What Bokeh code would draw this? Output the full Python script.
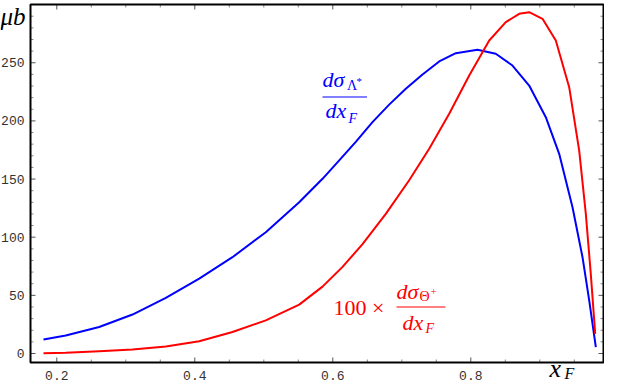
from bokeh.plotting import figure
from bokeh.models import Range1d, Label
from bokeh.core.properties import value
from bokeh.embed import file_html
from bokeh.resources import INLINE

# ---- data ----
xF_lambda = [0.1807, 0.2130, 0.2614, 0.3097, 0.3580, 0.4064, 0.4546, 0.5029,
             0.5513, 0.5851, 0.6093, 0.6333, 0.6575, 0.6817, 0.7058, 0.7300,
             0.7542, 0.7783, 0.8097, 0.8362, 0.8604, 0.8846, 0.9087, 0.9281,
             0.9474, 0.9619, 0.9716, 0.9812]
sig_lambda = [12.0, 15.5, 22.8, 33.5, 47.8, 64.4, 82.8, 104.3,
              130.1, 150.2, 166.0, 182.0, 198.9, 214.0, 227.6, 239.9,
              251.1, 258.2, 261.1, 257.7, 247.6, 230.4, 203.2, 171.7,
              125.8, 82.8, 45.6, 5.4]

xF_theta = [0.1807, 0.2130, 0.2614, 0.3097, 0.3580, 0.4064, 0.4546, 0.5029,
            0.5513, 0.5851, 0.6141, 0.6431, 0.6768, 0.7107, 0.7397, 0.7687,
            0.7977, 0.8267, 0.8507, 0.8604, 0.8701, 0.8846, 0.9039, 0.9232,
            0.9426, 0.9571, 0.9667, 0.9739, 0.9803]
sig_theta100 = [0.3, 0.6, 2.0, 3.4, 6.0, 10.6, 18.5, 28.5,
                42.0, 57.5, 74.5, 94.0, 120.0, 149.0, 176.0, 206.1,
                239.0, 269.1, 284.9, 288.5, 292.1, 293.5, 287.8, 269.1,
                229.0, 174.5, 120.1, 68.5, 16.9]

x_ticks = [0.2, 0.4, 0.6, 0.8]
x_tick_labels = ["0.2", "0.4", "0.6", "0.8"]
y_ticks = [0, 50, 100, 150, 200, 250]
y_tick_labels = ["0", "50", "100", "150", "200", "250"]
x_minor_step = 0.05
y_minor_step = 10

BLUE = "#0000ff"
RED = "#ff0000"
SERIF = "Liberation Serif"
MONO = "Liberation Mono"

# ---- page pixel <-> data helpers (layout only) ----
PX_X = 690.0
PX_Y = 1.163


def X(px):
    return 0.2 + (px - 64.3) / PX_X


def Y(py):
    return (353.0 - py) / PX_Y


# the frame covers the whole canvas; the plot box is drawn by hand
p = figure(width=604, height=383, output_backend="svg", toolbar_location=None,
           x_range=Range1d(X(8), X(612)), y_range=Range1d(Y(383), Y(0)),
           x_axis_type=None, y_axis_type=None, min_border=0,
           background_fill_color="white", border_fill_color="white")
p.title.visible = False
p.outline_line_color = None

x_lo, x_hi, y_lo, y_hi = X(38), X(611), Y(362), Y(4)

# ticks (inward, on all four sides)
xmin_ticks = [round(k * x_minor_step, 4) for k in range(1, 21)]
xmin_ticks = [t for t in xmin_ticks if x_lo < t < x_hi - 0.003
              and all(abs(t - m) > 1e-6 for m in x_ticks)]
ymin_ticks = [k * y_minor_step for k in range(1, 40)]
ymin_ticks = [t for t in ymin_ticks if y_lo < t < y_hi - 1 and t not in y_ticks]


def xticks(vals, L, color):
    n = len(vals)
    dy = L / PX_Y
    p.segment(x0=vals, y0=[y_lo] * n, x1=vals, y1=[y_lo + dy] * n,
              line_color=color, line_width=1)
    p.segment(x0=vals, y0=[y_hi] * n, x1=vals, y1=[y_hi - dy] * n,
              line_color=color, line_width=1)


def yticks(vals, L, color):
    n = len(vals)
    dx = L / PX_X
    p.segment(x0=[x_lo] * n, y0=vals, x1=[x_lo + dx] * n, y1=vals,
              line_color=color, line_width=1)
    p.segment(x0=[x_hi] * n, y0=vals, x1=[x_hi - dx] * n, y1=vals,
              line_color=color, line_width=1)


xticks(x_ticks, 5, "#555555")
xticks(xmin_ticks, 3, "#888888")
yticks(y_ticks, 5, "#555555")
yticks(ymin_ticks, 3, "#888888")

# frame
p.quad(left=[x_lo], right=[x_hi], bottom=[y_lo], top=[y_hi],
       fill_color=None, line_color="black", line_width=2)

# tick labels
p.text(x=x_ticks, y=[Y(375)] * len(x_ticks), text=x_tick_labels,
       text_font=value(MONO), text_font_size="13px", text_color="#333333",
       text_align="center", text_baseline="middle")
p.text(x=[X(32)] * len(y_ticks), y=y_ticks, text=y_tick_labels,
       text_font=value(MONO), text_font_size="13px", text_color="#333333",
       text_align="right", text_baseline="middle")

# curves
p.line(xF_lambda, sig_lambda, line_color=BLUE, line_width=2, line_join="round")
p.line(xF_theta, sig_theta100, line_color=RED, line_width=2, line_join="round")


def lab(text, px, py, size, color, style="italic"):
    p.add_layout(Label(x=X(px), y=Y(py), text=text, text_font=SERIF,
                       text_font_size=size, text_font_style=style,
                       text_color=color, text_align="left",
                       text_baseline="middle"))


# blue fraction label
lab("dσ", 330, 79.4, "22px", BLUE)
lab("Λ", 354.5, 84.8, "14px", BLUE, style="normal")
lab("*", 364, 80.7, "11px", BLUE, style="normal")
lab("dx", 333, 110.4, "22px", BLUE)
lab("F", 356, 117.8, "14px", BLUE)
p.segment(x0=[X(330)], y0=[Y(96.5)], x1=[X(374.5)], y1=[Y(96.5)],
          line_color=BLUE, line_width=1)

# red fraction label
lab("100 ×", 341, 306.9, "22px", RED, style="normal")
lab("dσ", 404, 290.9, "22px", RED)
lab("Θ", 427, 295.8, "14px", RED, style="normal")
lab("+", 438, 290.7, "11px", RED, style="normal")
lab("dx", 410, 321.9, "22px", RED)
lab("F", 433, 328.3, "14px", RED)
p.segment(x0=[X(404)], y0=[Y(306.5)], x1=[X(453)], y1=[Y(306.5)],
          line_color=RED, line_width=1)

# axis labels
lab("μb", 8, 15.5, "25px", "black")
lab("x", 557, 368, "26px", "black")
lab("F", 572, 373, "16px", "black")

open("out.html", "w").write(file_html(p, INLINE))
